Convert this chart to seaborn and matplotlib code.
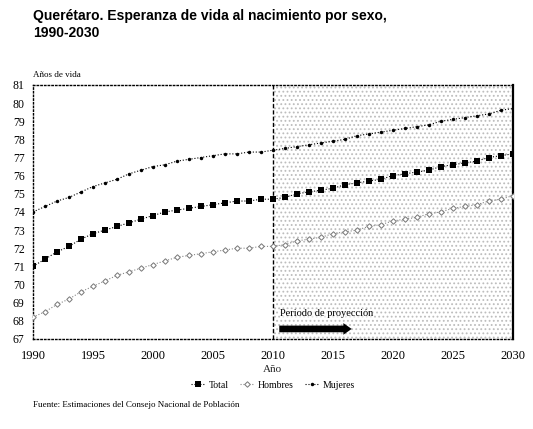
import numpy as np
import pandas as pd
import seaborn as sns
import matplotlib.pyplot as plt

years = list(range(1990, 2031))

total = [71.0, 71.4, 71.8, 72.1, 72.5, 72.8, 73.0, 73.2, 73.4, 73.6,
         73.8, 74.0, 74.1, 74.2, 74.3, 74.4, 74.5, 74.6, 74.6, 74.7,
         74.7, 74.8, 75.0, 75.1, 75.2, 75.3, 75.5, 75.6, 75.7, 75.8,
         76.0, 76.1, 76.2, 76.3, 76.5, 76.6, 76.7, 76.8, 77.0, 77.1, 77.2]
hombres = [68.2, 68.5, 68.9, 69.2, 69.6, 69.9, 70.2, 70.5, 70.7, 70.9,
           71.1, 71.3, 71.5, 71.6, 71.7, 71.8, 71.9, 72.0, 72.0, 72.1,
           72.1, 72.2, 72.4, 72.5, 72.6, 72.8, 72.9, 73.0, 73.2, 73.3,
           73.5, 73.6, 73.7, 73.9, 74.0, 74.2, 74.3, 74.4, 74.6, 74.7, 74.9]
mujeres = [74.0, 74.3, 74.6, 74.8, 75.1, 75.4, 75.6, 75.8, 76.1, 76.3,
           76.5, 76.6, 76.8, 76.9, 77.0, 77.1, 77.2, 77.2, 77.3, 77.3,
           77.4, 77.5, 77.6, 77.7, 77.8, 77.9, 78.0, 78.2, 78.3, 78.4,
           78.5, 78.6, 78.7, 78.8, 79.0, 79.1, 79.2, 79.3, 79.4, 79.6, 79.7]

x_ticks = list(range(1990, 2031, 5))
y_ticks = list(range(67, 82))

title = "Querétaro. Esperanza de vida al nacimiento por sexo,\n1990-2030"
source = "Fuente: Estimaciones del Consejo Nacional de Población"

df = pd.DataFrame({"Año": years, "Total": total, "Hombres": hombres, "Mujeres": mujeres})

sns.set_theme(style="white")
plt.rcParams['font.family'] = ['Liberation Serif', 'DejaVu Serif']
plt.rcParams['text.color'] = 'black'
plt.rcParams['xtick.color'] = 'black'
plt.rcParams['ytick.color'] = 'black'
plt.rcParams['hatch.linewidth'] = 0.8

fig = plt.figure(figsize=(5.33, 4.29), dpi=100)
ax = fig.add_axes([0.062, 0.210, 0.900, 0.592])

# projection area, stippled
ax.axvspan(2010, 2030, facecolor='white', edgecolor='#bdbdbd', hatch='....', lw=0, zorder=0)
ax.axvline(2010, color='black', ls=(0, (3, 1.5)), lw=1.0, zorder=1)

sns.lineplot(data=df, x="Año", y="Mujeres", ax=ax, color='black', ls=':', lw=0.8,
             marker='o', markersize=2.5, markeredgewidth=0, label='Mujeres', zorder=3)
sns.lineplot(data=df, x="Año", y="Hombres", ax=ax, color='#888888', ls=':', lw=0.8,
             marker='D', markersize=2.8, markerfacecolor='white', markeredgecolor='#777777',
             markeredgewidth=0.7, label='Hombres', zorder=3)
sns.lineplot(data=df, x="Año", y="Total", ax=ax, color='black', ls=':', lw=0.8,
             marker='s', markersize=4.5, markeredgewidth=0, label='Total', zorder=4)

ax.set_xlim(1990, 2030)
ax.set_ylim(67, 81)
ax.set_xticks(x_ticks)
ax.set_yticks(y_ticks)
ax.tick_params(axis='x', labelsize=9, length=0, pad=8)
ax.tick_params(axis='y', labelsize=8.5, length=0, pad=6)
ax.set_xlabel("Año", fontsize=8, labelpad=2)
ax.set_ylabel("")

for side in ['left', 'top', 'bottom']:
    ax.spines[side].set_linestyle(':')
    ax.spines[side].set_linewidth(1.0)
    ax.spines[side].set_color('black')
ax.spines['right'].set_linewidth(1.6)
ax.spines['right'].set_color('black')

# projection label and arrow
ax.text(2010.6, 68.15, "Periodo de proyección", fontsize=7.5, ha='left', va='bottom', zorder=5,
        bbox=dict(facecolor='white', edgecolor='none', pad=0.3, alpha=0.6))
ax.annotate("", xy=(2016.8, 67.55), xytext=(2010.3, 67.55),
            arrowprops=dict(arrowstyle='simple,head_width=0.7,head_length=0.5,tail_width=0.4',
                            color='black', lw=0), zorder=5)

handles, labels = ax.get_legend_handles_labels()
order = [labels.index(k) for k in ['Total', 'Hombres', 'Mujeres']]
ax.legend([handles[i] for i in order], [labels[i] for i in order], loc='upper center',
          bbox_to_anchor=(0.5, -0.13), ncol=3, frameon=False, fontsize=7,
          handlelength=1.4, columnspacing=1.2, handletextpad=0.4)

fig.text(0.062, 0.978, title, fontsize=10, fontweight='bold', ha='left', va='top',
         family=['Liberation Sans'], linespacing=1.25)
fig.text(0.062, 0.825, "Años de vida", fontsize=6.5, ha='left', va='center')
fig.text(0.062, 0.055, source, fontsize=6.5, ha='left', va='center')

fig.savefig("out.png", dpi=100)
